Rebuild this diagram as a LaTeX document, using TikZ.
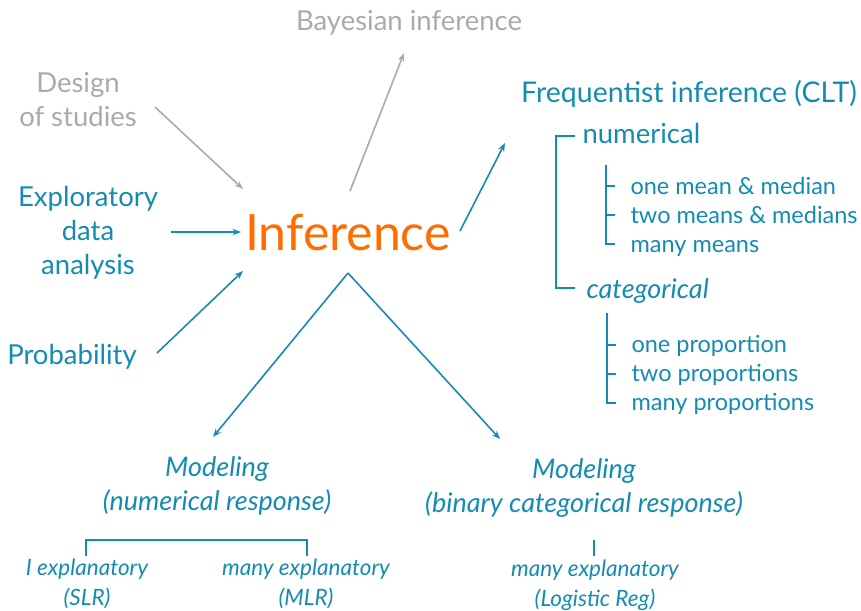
\documentclass[tikz,border=0pt]{standalone}
\usepackage{fontspec}
\setmainfont{Lato}
\usetikzlibrary{arrows.meta}

\definecolor{infblue}{RGB}{20,140,178}
\definecolor{infgray}{RGB}{170,170,170}
\definecolor{inforange}{RGB}{255,108,0}

\tikzset{
  big/.style={font=\fontsize{27.5}{34}\selectfont, text=infblue, align=center},
  mid/.style={font=\fontsize{27}{33.5}\selectfont\itshape, text=infblue, align=center},
  small/.style={font=\fontsize{23.5}{29}\selectfont, text=infblue, text height=17pt, text depth=5pt},
  tiny/.style={font=\fontsize{22.5}{30}\selectfont\itshape, text=infblue, align=center},
  flow/.style={infblue, line width=1.6pt, -{Stealth[length=8.5pt,width=6.5pt]}},
  faded/.style={infgray, line width=1.6pt, -{Stealth[length=8.5pt,width=6.5pt]}},
  tree/.style={infblue, line width=2pt},
}

\begin{document}
\begin{tikzpicture}[x=1pt,y=-1pt]
\useasboundingbox (0,0) rectangle (861,610);

% centre
\node[font=\fontsize{50}{60}\selectfont, text=inforange] (inf) at (348,232) {Inference};
\coordinate (infbot) at (348,273);

% inputs on the left
\node[big, text=infgray] (design) at (78,100) {Design\\of studies};
\node[big] (eda) at (88,233) {Exploratory\\data\\analysis};
\node[big] (prob) at (72,357) {Probability};
\node[big, text=infgray] (bayes) at (409,23) {Bayesian inference};

% arrows into / out of inference
\coordinate (d1) at (155,107);  \coordinate (d2) at (243,189);
\coordinate (e1) at (171,232);  \coordinate (e2) at (241,232);
\coordinate (p1) at (157,353);  \coordinate (p2) at (243,271);
\coordinate (b1) at (350,191);  \coordinate (b2) at (404,53);
\coordinate (f1) at (460,231);  \coordinate (f2) at (505,143);
\coordinate (ml) at (213,437);  \coordinate (mr) at (500,439);
\draw[faded] (d1) -- (d2);
\draw[flow] (e1) -- (e2);
\draw[flow] (p1) -- (p2);
\draw[faded] (b1) -- (b2);
\draw[flow] (f1) -- (f2);
\draw[flow] (infbot) -- (ml);
\draw[flow] (infbot) -- (mr);

% frequentist branch
\node[big, font=\fontsize{28.5}{34}\selectfont] (freq) at (689,94) {Frequentist inference (CLT)};
\node[big, anchor=west] (num) at (579,133) {numerical};
\node[big, anchor=west, font=\fontsize{27}{34}\selectfont\itshape] (cat) at (583,291) {categorical};
\draw[tree] (575,136) -- (556,136) -- (556,288) -- (575,288);

% numerical items
\node[small, anchor=west] (n1) at (627,188) {one mean \& median};
\node[small, anchor=west] (n2) at (627,217) {two means \& medians};
\node[small, anchor=west] (n3) at (627,246) {many means};
\draw[tree] (606,165) -- (606,245);
\foreach \y in {186,215,244} \draw[tree] (605,\y) -- (615,\y);

% categorical items
\node[small, anchor=west] (c1) at (628,346) {one proportion};
\node[small, anchor=west] (c2) at (628,375) {two proportions};
\node[small, anchor=west] (c3) at (628,404) {many proportions};
\draw[tree] (607,313) -- (607,404);
\foreach \y in {345,374,403} \draw[tree] (606,\y) -- (616,\y);

% modeling
\node[mid] (modnum) at (217,486) {Modeling\\(numerical response)};
\node[mid] (modbin) at (584,488) {Modeling\\(binary categorical response)};

\node[tiny] (slr) at (87,584) {I explanatory\\(SLR)};
\node[tiny] (mlr) at (306,584) {many explanatory\\(MLR)};
\node[tiny] (logit) at (595,585) {many explanatory\\(Logistic Reg)};
\draw[tree] (86,556) -- (86,540) -- (307,540) -- (307,556);
\draw[tree] (594,540) -- (594,556);

\end{tikzpicture}
\end{document}
